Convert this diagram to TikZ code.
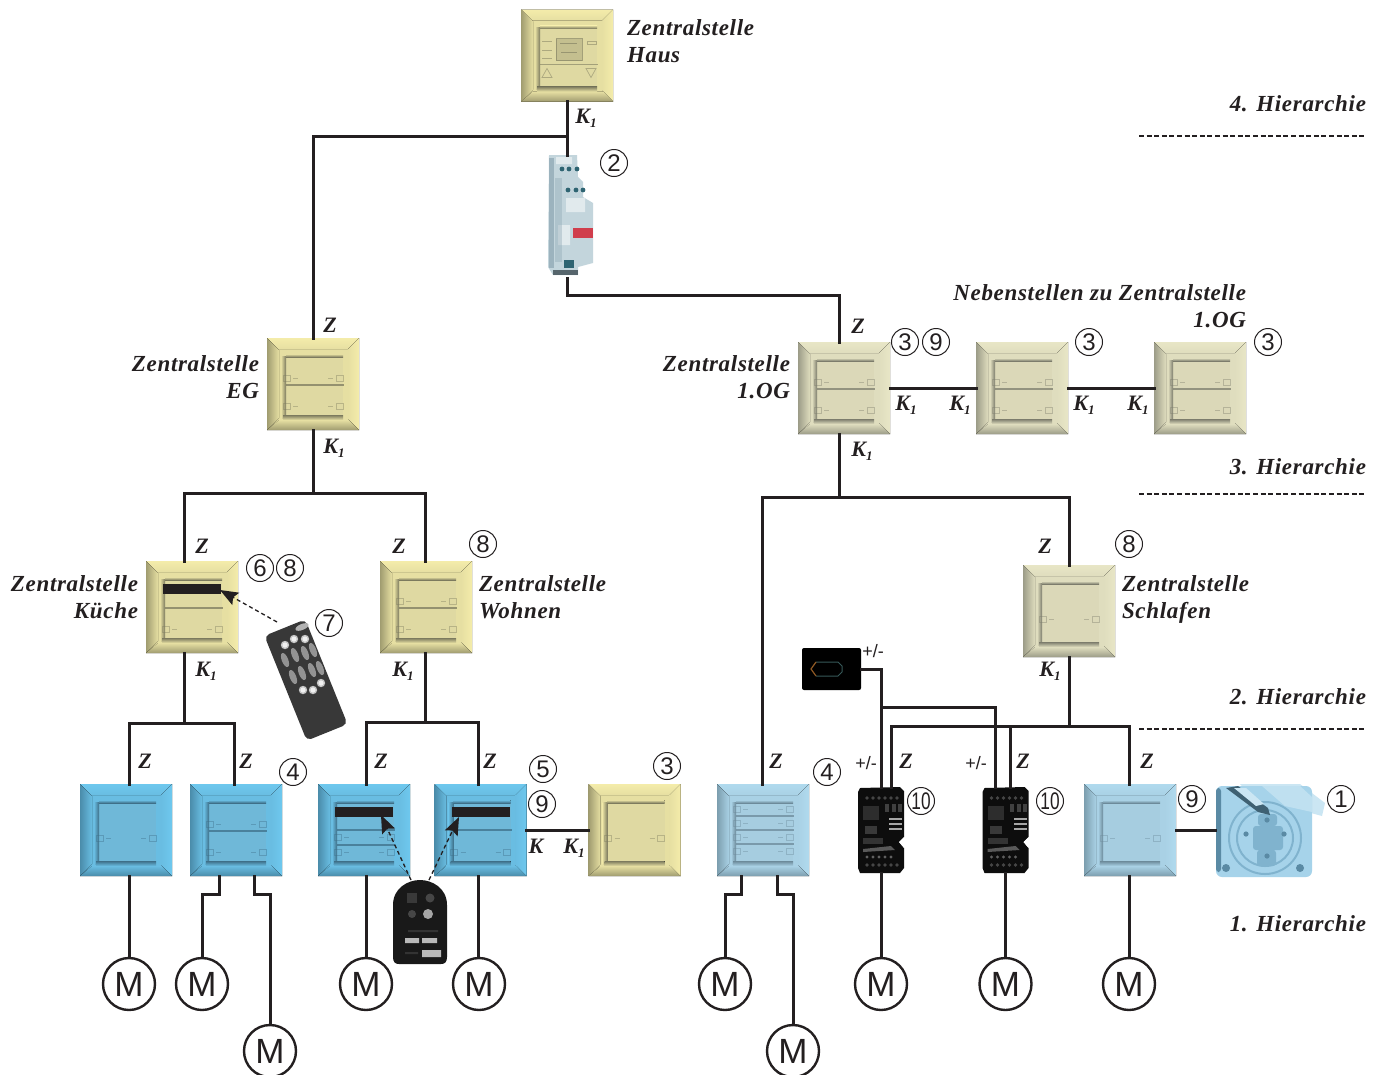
\documentclass[tikz,border=0pt]{standalone}
\usepackage{fontspec}
\setmainfont{Liberation Serif}
\newfontfamily\numfont{Liberation Sans}
\usetikzlibrary{arrows.meta,shapes.geometric,calc}
\definecolor{inkc}{HTML}{231F20}
\definecolor{yelb}{HTML}{E6DFA2}\definecolor{yell}{HTML}{F4ECAA}\definecolor{yeld}{HTML}{A09C70}\definecolor{yelp}{HTML}{DFD9A2}\definecolor{yels}{HTML}{7C7A5E}
\definecolor{creb}{HTML}{DFDDBE}\definecolor{crel}{HTML}{E8E6C6}\definecolor{cred}{HTML}{9C9C88}\definecolor{crep}{HTML}{DBD8B8}\definecolor{cres}{HTML}{7C7C6C}
\definecolor{blub}{HTML}{69BDE2}\definecolor{blul}{HTML}{6EC8EE}\definecolor{blud}{HTML}{4A8CAA}\definecolor{blup}{HTML}{6FB8D8}\definecolor{blus}{HTML}{3E6F88}
\definecolor{pblb}{HTML}{A9D1E5}\definecolor{pbll}{HTML}{B0DAEE}\definecolor{pbld}{HTML}{7C9EAE}\definecolor{pblp}{HTML}{A6CDE0}\definecolor{pbls}{HTML}{6C8A9A}
\definecolor{sockb}{HTML}{A6D3EA}\definecolor{sockl}{HTML}{CBE6F3}\definecolor{sockr}{HTML}{80B3CE}\definecolor{sockd}{HTML}{5A8AA4}
\definecolor{dinb}{HTML}{C3D5DC}\definecolor{dind}{HTML}{8FA8B4}\definecolor{dint}{HTML}{2E6472}\definecolor{dinr}{HTML}{D03E4C}
\tikzset{
  tile/.style={rectangle,minimum size=92pt,inner sep=0pt,outer sep=0pt},
  wire/.style={draw=inkc,line width=3pt,line cap=rect},
  sepline/.style={draw=inkc,line width=1.3pt,dash pattern=on 5pt off 2.6pt},
  irarrow/.style={draw=inkc,line width=1.3pt,dash pattern=on 4pt off 3pt,-{Stealth[length=18pt,width=14pt,inset=3pt]}},
  lab/.style={inner sep=0pt,outer sep=0pt,text=inkc,font=\fontsize{23}{27}\selectfont\bfseries\itshape\addfontfeatures{LetterSpace=3}},
  sig/.style={inner sep=0pt,outer sep=0pt,text=inkc,font=\fontsize{22}{24}\selectfont\bfseries\itshape},
  plm/.style={inner sep=0pt,outer sep=0pt,text=inkc,font=\fontsize{18}{20}\selectfont\numfont},
  num/.style={circle,draw=inkc,line width=1pt,minimum size=27pt,inner sep=0pt,text=inkc,font=\fontsize{24}{24}\selectfont\numfont},
  motor/.style={circle,draw=inkc,fill=white,line width=2.4pt,minimum size=52pt,inner sep=0pt,text=inkc,font=\fontsize{35}{35}\selectfont\numfont},
  ghost/.style={rectangle,inner sep=0pt,outer sep=0pt},
}
% Bevelled switch tile: name, x, y, colour prefix, content
\newcommand\swt[5]{%
  \node[tile,fill=#4b] (#1) at (#2,#3) {};
  \begin{scope}[shift={(#2,#3)}]
    \fill[top color=#4l,bottom color=#4b] (-46,-46)--(46,-46)--(35,-35)--(-35,-35)--cycle;
    \fill[right color=#4l,left color=#4b] (46,-46)--(46,46)--(35,35)--(35,-35)--cycle;
    \fill[left color=#4d,right color=#4b] (-46,-46)--(-34,-34)--(-34,34)--(-46,46)--cycle;
    \fill[bottom color=#4d,top color=#4b] (-46,46)--(46,46)--(36,36)--(-34,36)--cycle;
    \fill[#4p] (-27,-27) rectangle (30,31);
    \fill[left color=#4b,right color=#4s] (-32,-28) rectangle (-27,34);
    \fill[top color=#4s,bottom color=#4b] (-30,31) rectangle (30,36);
    \fill[top color=#4b,bottom color=#4s] (-27,-30) rectangle (30,-27);
    \def\plc{#4s}%
    #5
  \end{scope}}
\newcommand\rowline[1]{\draw[\plc,opacity=.75,line width=1.6pt] (-27,#1)--(31,#1);}
\newcommand\irbar{\fill[inkc] (-29,-23) rectangle (29,-13);}
\newcommand\iconrow[1]{%
  \draw[\plc,opacity=.4,line width=.9pt] (-30,#1-3) rectangle (-23,#1+3) (-20,#1)--(-15,#1) (15,#1)--(20,#1) (23,#1-3) rectangle (30,#1+3);}
\newcommand\rbtn[2]{\fill[gray!85,shift={(#1,#2)},rotate=22] (0,0) ellipse (3.2 and 7.5);}
\newcommand\wdot[2]{\fill[gray!45] (#1,#2) circle (4.2);\fill[gray!12] (#1,#2) circle (2.6);}
\newcommand\relay[2]{%
  \node[ghost,minimum width=47pt,minimum height=86pt] (#1) at (#2,830) {};
  \begin{scope}[shift={(#2,830)}]
    \fill[black!95] (-21,-42)--(19,-43)--(23,-39)--(23,7)--(18,12)--(23,18)--(23,38)--(19,43)--(-21,43)--(-23,38)--(-23,-38)--cycle;
    \foreach \yy in {-32,35}{\foreach \xx in {-14,-8,-2,4,10,16}{\fill[gray!55!black] (\xx,\yy) circle (1.8);}}
    \foreach \yy in {27}{\foreach \xx in {-14,-8,-2,4,10}{\fill[gray!75!black] (\xx,\yy) circle (1.6);}}
    \foreach \yy in {-11,-6,-1}{\fill[gray!70] (8,\yy-1.2) rectangle (21,\yy+1.2);}
    \fill[gray!35!black] (-18,-24) rectangle (-2,-10);
    \fill[gray!45!black] (-16,-4) rectangle (-4,4);
    \fill[gray!40!black] (-18,8) rectangle (2,14);
    \fill[gray!70!black] (-18,19) -- (10,16) -- (14,20) -- (-18,22) -- cycle;
    \foreach \xx in {4,11,17}{\fill[gray!50!black] (\xx,-26) rectangle (\xx+4,-18);}
    \fill[white] (23,7)--(18,12)--(23,18)--cycle;
  \end{scope}}
\begin{document}
\begin{tikzpicture}[x=1pt,y=-1pt]
\useasboundingbox[fill=white] (0,0) rectangle (1380,1074);
% switches
\swt{haus}{567}{55.5}{yel}{%
  \fill[yelp!88!black] (-11,-17) rectangle (15,5);
  \draw[\plc,opacity=.6,line width=.8pt] (-11,-17) rectangle (15,5);
  \draw[\plc,opacity=.6,line width=.9pt] (-7,-12)--(10,-12) (-6,-3)--(10,-3);
  \draw[\plc,opacity=.5,line width=.9pt] (-25,-14)--(-15,-14) (-25,-5)--(-15,-5) (-25,3)--(-15,3) (20,-14) rectangle (29,-11);
  \draw[\plc,opacity=.5,line width=.7pt] (-25,22)--(-20,13)--(-15,22)--cycle (19,13)--(29,13)--(24,22)--cycle;
  \draw[\plc,opacity=.6,line width=.9pt] (-27,9)--(31,9);}
\swt{eg}{313}{384}{yel}{\rowline{1}\iconrow{-6}\iconrow{22}}
\swt{og}{844}{388}{cre}{\rowline{1}\iconrow{-6}\iconrow{22}}
\swt{nba}{1022}{388}{cre}{\rowline{1}\iconrow{-6}\iconrow{22}}
\swt{nbb}{1200}{388}{cre}{\rowline{1}\iconrow{-6}\iconrow{22}}
\swt{kue}{192}{607}{yel}{\irbar\rowline{1}\iconrow{22}}
\swt{woh}{426}{607}{yel}{\rowline{1}\iconrow{-6}\iconrow{22}}
\swt{sch}{1069}{611}{cre}{\iconrow{8}}
\swt{ta}{126}{830}{blu}{\iconrow{8}}
\swt{tb}{236}{830}{blu}{\rowline{1}\iconrow{-6}\iconrow{22}}
\swt{tc}{364}{830}{blu}{\irbar\rowline{0}\rowline{15}\iconrow{7}\iconrow{22}}
\swt{td}{480.5}{830}{blu}{\irbar\rowline{0}\iconrow{22}}
\swt{te}{634.5}{830}{yel}{\iconrow{8}}
\swt{tf}{763}{830}{pbl}{\rowline{-14}\rowline{0}\rowline{14}\iconrow{-21}\iconrow{-7}\iconrow{7}\iconrow{21}}
\swt{tg}{1130}{830}{pbl}{\iconrow{8}}
% DIN-rail module
\node[ghost,minimum width=45pt,minimum height=123pt] (din) at (570.5,216.5) {};
\fill[dinb] (549,155)--(577,155)--(578,177)--(583,182)--(583,197)--(593,203)--(593,263)--(578,267)--(578,275)--(553,275)--(548,267)--cycle;
\fill[white,opacity=.5] (556,157) rectangle (572,164) (566,198) rectangle (585,212) (558,225) rectangle (570,245);
\fill[dind,opacity=.75] (549,158) rectangle (554,268);
\fill[dind,opacity=.4] (555,178) rectangle (562,262);
\foreach \xx in {562,569,577}{\fill[dint] (\xx,169) circle (2.4);}
\foreach \xx in {568,576,583}{\fill[dint] (\xx,190) circle (2.4);}
\fill[dinr] (573,228) rectangle (593,238);
\fill[dint] (564,260) rectangle (574,268);
\fill[dind!60!black] (553,270) rectangle (578,275);
% control unit (power supply)
\node[ghost,fill=black,rounded corners=2pt,minimum width=59pt,minimum height=42pt] (psu) at (831.5,669) {};
\draw[teal!40!gray!70!black,line width=1pt] (816,662)--(838,662) (816,676)--(838,676) (838,662)--(842,666)--(842,672)--(838,676);
\draw[orange!60!gray!70!black,line width=1.2pt] (816,662)--(811,669)--(816,676);
% relay modules
\relay{rla}{881}
\relay{rlb}{1005.5}
% socket
\node[ghost,minimum width=110pt,minimum height=94pt] (soc) at (1270,830) {};
\fill[sockl] (1240,784)--(1300,784)--(1325,803)--(1322,816)--(1300,810)--(1260,805)--cycle;
\fill[sockb,rounded corners=6pt] (1216,786) rectangle (1312,877);
\fill[sockl,opacity=.7] (1262,786)--(1300,786)--(1312,797)--(1312,812)--(1285,806)--cycle;
\fill[sockd,rounded corners=3pt] (1216,788) rectangle (1221,872);
\foreach \rr in {36,28}{\draw[sockr,line width=2pt] (1265,838) circle (\rr);}
\fill[sockr,rounded corners=3pt] (1258,814) rectangle (1277,826) (1253,826) rectangle (1283,850) (1257,850) rectangle (1276,866);
\foreach \xx/\yy in {1267/820,1246/834,1284/834,1267/856}{\fill[sockd] (\xx,\yy) circle (2.6);}
\fill[sockd!70!black] (1226,788)--(1238,786)--(1268,808)--(1270,815)--(1258,812)--cycle;
\fill[sockl] (1234,788)--(1246,788)--(1264,804)--(1256,806)--cycle;
\foreach \xx in {1226,1300}{\fill[sockd] (\xx,868) circle (4);}
% remote A
\node[ghost,fill=black!78,rounded corners=5pt,rotate=22,minimum width=44pt,minimum height=113pt] (rma) at (306,680) {};
\fill[gray!60,shift={(302,627)},rotate=-68] (0,0) ellipse (3 and 7);
\wdot{285}{645}\wdot{294}{639}\wdot{305}{639}
\rbtn{285}{660}\rbtn{295}{655}\rbtn{305}{653}\rbtn{313}{650}
\rbtn{293}{677}\rbtn{302}{673}\rbtn{312}{670}\rbtn{320}{668}
\wdot{303}{690}\wdot{313}{690}\wdot{321}{683}
% remote B
\node[ghost,minimum width=54pt,minimum height=84pt] (rmb) at (420,922) {};
\fill[black!90] (393,957) -- (393,905) .. controls (393,888) and (408,880) .. (420,880) .. controls (432,880) and (447,888) .. (447,905) -- (447,957) .. controls (447,962) and (445,964) .. (441,964) -- (399,964) .. controls (395,964) and (393,962) .. (393,957) -- cycle;
\fill[gray!45!black] (407,893) rectangle (417,903);
\fill[gray!55!black] (430,898) circle (4.5) (412,914) circle (4) ;
\fill[gray!70] (428,914) circle (5);
\fill[gray!55] (405,938) rectangle (419,943) (422,938) rectangle (437,943) (422,950) rectangle (441,957);
\fill[gray!40!black] (408,930) rectangle (438,932) (405,952) rectangle (418,954);
% motors
\node[motor] (ma) at (129,984) {M};
\node[motor] (mb) at (202,984) {M};
\node[motor] (mc) at (270,1051) {M};
\node[motor] (md) at (366,984) {M};
\node[motor] (me) at (479,984) {M};
\node[motor] (mf) at (725,984) {M};
\node[motor] (mg) at (793,1051) {M};
\node[motor] (mh) at (881,984) {M};
\node[motor] (mi) at (1005.5,984) {M};
\node[motor] (mj) at (1129,984) {M};
% junctions
\coordinate (j1) at (567,136);
\coordinate (j2) at (567,295);
\coordinate (j3) at (313,493);
\coordinate (j4) at (839,497);
\coordinate (j5) at (1069,726);
\coordinate (j6) at (184,723);
\coordinate (j7) at (425,722);
\coordinate (xb) at (129,0);
\coordinate (xc) at (234,0);
\coordinate (xd) at (366,0);
\coordinate (xe) at (478,0);
\coordinate (xf) at (762,0);
\coordinate (xg) at (891,0);
\coordinate (xh) at (1010,0);
\coordinate (xi) at (1129,0);
\coordinate (xj) at (881,707);
\coordinate (xk) at (995,707);
\coordinate (ya) at (219,894);
\coordinate (yb) at (254,894);
\coordinate (yc) at (741,894);
\coordinate (yd) at (777,894);
% wires
\draw[wire] (haus.south) -- (din.north -| haus.south);
\draw[wire] (j1) -| (eg.north);
\draw[wire] (din.south -| j2) -- (j2) -| (og.north -| j4);
\draw[wire] (eg.south) -- (j3);
\draw[wire] (kue.north -| j6) |- (j3) -| (woh.north -| j7);
\draw[wire] (og.south -| j4) -- (j4);
\draw[wire] (tf.north -| xf) |- (j4) -| (sch.north);
\draw[wire] (og.east) -- (nba.west);
\draw[wire] (nba.east) -- (nbb.west);
\draw[wire] (kue.south -| j6) -- (j6);
\draw[wire] (ta.north -| xb) |- (j6) -| (tb.north -| xc);
\draw[wire] (woh.south -| j7) -- (j7);
\draw[wire] (tc.north -| xd) |- (j7) -| (td.north -| xe);
\draw[wire] (td.east) -- (te.west);
\draw[wire] (sch.south) -- (j5);
\draw[wire] (rla.north -| xg) |- (j5) -| (tg.north -| xi);
\draw[wire] (rlb.north -| xh) -- (xh |- j5);
\draw[wire] (psu.east) -| (rla.north -| xj);
\draw[wire] (xj) -- (xk) -- (rlb.north -| xk);
\draw[wire] (tg.east) -- (soc.west);
\draw[wire] (ta.south -| xb) -- (ma.north);
\draw[wire] (tb.south -| ya) -- (ya) -| (mb.north);
\draw[wire] (tb.south -| yb) -- (yb) -| (mc.north);
\draw[wire] (tc.south -| xd) -- (md.north);
\draw[wire] (td.south -| xe) -- (me.north -| xe);
\draw[wire] (tf.south -| yc) -- (yc) -| (mf.north);
\draw[wire] (tf.south -| yd) -- (yd) -| (mg.north);
\draw[wire] (rla.south) -- (mh.north);
\draw[wire] (rlb.south) -- (mi.north);
\draw[wire] (tg.south -| xi) -- (mj.north);
% hierarchy separators
\coordinate (sa) at (1139,136); \coordinate (sb) at (1366,136);
\coordinate (sc) at (1139,494); \coordinate (sd) at (1366,494);
\coordinate (se) at (1139,729); \coordinate (sf) at (1366,729);
\draw[sepline] (sa)--(sb);
\draw[sepline] (sc)--(sd);
\draw[sepline] (se)--(sf);
% infrared arrows
\coordinate (aa) at (277,622); \coordinate (ab) at (220,590);
\coordinate (ac) at (411,880); \coordinate (ad) at (381,815);
\coordinate (ae) at (429,880); \coordinate (af) at (459,817);
\draw[irarrow] (aa)--(ab);
\draw[irarrow] (ac)--(ad);
\draw[irarrow] (ae)--(af);
% names
\node[lab,anchor=west,align=left] (l1) at (627,41) {Zentralstelle\\Haus};
\node[lab,anchor=east] (l2) at (1366,104) {4. Hierarchie};
\node[lab,anchor=east] (l3) at (1366,467) {3. Hierarchie};
\node[lab,anchor=east] (l4) at (1366,697) {2. Hierarchie};
\node[lab,anchor=east] (l5) at (1366,924) {1. Hierarchie};
\node[lab,anchor=east,align=right] (l6) at (259,377) {Zentralstelle\\EG};
\node[lab,anchor=east,align=right] (l7) at (790,377) {Zentralstelle\\1.OG};
\node[lab,anchor=east,align=right] (l8) at (1246,306) {Nebenstellen zu Zentralstelle\\1.OG};
\node[lab,anchor=east,align=right] (l9) at (138,597) {Zentralstelle\\Küche};
\node[lab,anchor=west,align=left] (l10) at (479,597) {Zentralstelle\\Wohnen};
\node[lab,anchor=west,align=left] (l11) at (1122,599) {Zentralstelle\\Schlafen};
% signal labels
\newcommand\kone{K\raisebox{-4pt}{\fontsize{13}{13}\selectfont 1}}
\foreach \nn/\xx/\yy in {ka/586/118,kb/334/448,kc/906/405,kd/960/405,ke/1084/405,kf/1138/405,kg/862/451,kh/206/671,ki/403/671,kj/1050/671,kk/574/848}{\node[sig] (\nn) at (\xx,\yy) {\kone};}
\foreach \nn/\xx/\yy in {za/330/325,zb/858/326,zc/202/546,zd/399/546,ze/1045/546,zf/145/761,zg/246/761,zh/381/761,zi/490/761,zj/776/761,zk/906/761,zl/1023/761,zm/1147/761}{\node[sig] (\nn) at (\xx,\yy) {Z};}
\node[sig] (kn) at (536,846) {K};
\node[plm] (pa) at (873,651) {+/-};
\node[plm] (pb) at (866,763) {+/-};
\node[plm] (pc) at (976,763) {+/-};
% numbers
\foreach \nn/\xx/\yy/\dd in {na/614/163/2,nb/905/342/3,nc/936/342/9,nd/1089/342/3,ne/1268/342/3,nf/483/544/8,ng/260/568/6,nh/290/568/8,ni/329/623/7,nj/293/772/4,nk/543/769/5,nl/542/804/9,nm/667/766/3,nn/827/772/4,no/1192/799/9,np/1341/799/1,nq/1129/544/8}{\node[num] (\nn) at (\xx,\yy) {\dd};}
\node[num] (nr) at (921,801) {\scalebox{.72}[1]{10}};
\node[num] (ns) at (1050,801) {\scalebox{.72}[1]{10}};
\end{tikzpicture}
\end{document}
